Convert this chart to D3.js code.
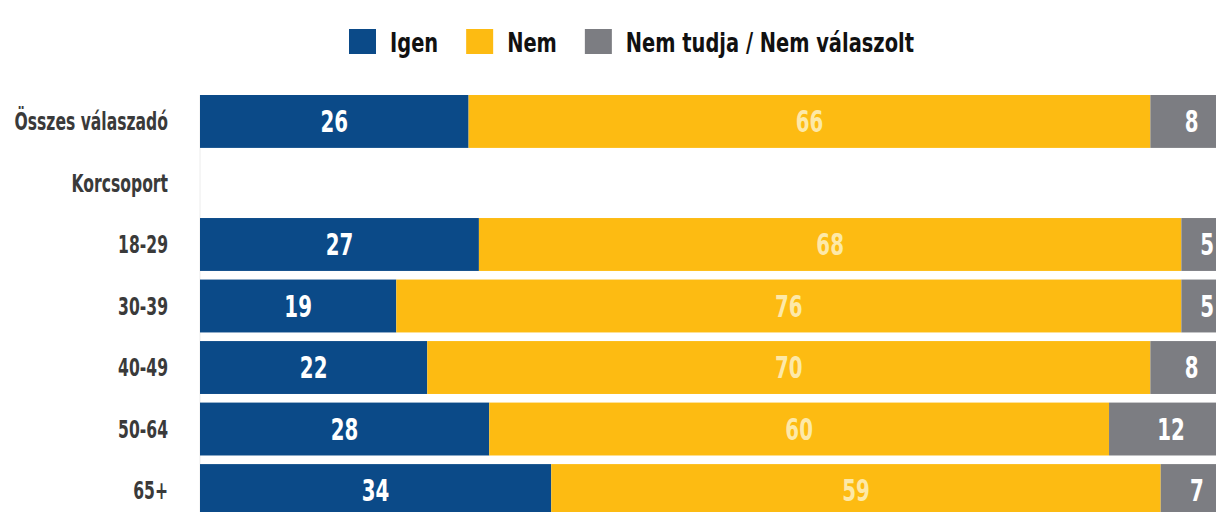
<!DOCTYPE html>
<html>
<head>
<meta charset="utf-8">
<script src="https://cdn.jsdelivr.net/npm/d3@7"></script>
<style>
  body { margin: 0; background: #fff; overflow: hidden; }
  text { font-family: "DejaVu Sans", sans-serif; font-weight: bold; }
</style>
</head>
<body>
<div id="chart"></div>
<script>
// adatok
const categories = ["Összes válaszadó", "Korcsoport", "18-29", "30-39", "40-49", "50-64", "65+"];
const igen = [26, null, 27, 19, 22, 28, 34];
const nem = [66, null, 68, 76, 70, 60, 59];
const nemTudja = [8, null, 5, 5, 8, 12, 7];
const seriesNames = ["Igen", "Nem", "Nem tudja / Nem válaszolt"];
const colors = ["#0b4a88", "#fdbb12", "#7c7d82"];
const labelColors = ["#ffffff", "#fde9a8", "#ffffff"];

const width = 1216, height = 512;

const svg = d3.select("#chart")
  .append("svg")
  .attr("width", width)
  .attr("height", height);

const x = d3.scaleLinear().domain([0, 100]).range([200, 1233]);
const y = d3.scaleBand().domain(categories).range([95, 517]).paddingInner(0.14).paddingOuter(0);

// narrow font trick: squeeze text horizontally
function squeeze(sel, sx) {
  sel.attr("transform", function(d) {
    const tx = +this.getAttribute("data-x"), ty = +this.getAttribute("data-y");
    return `translate(${tx},${ty}) scale(${sx},1)`;
  });
}

const rows = categories.map((c, i) => ({ cat: c, Igen: igen[i], Nem: nem[i], "Nem tudja / Nem válaszolt": nemTudja[i] }));
const stacked = d3.stack().keys(seriesNames)(rows.filter(r => r.Igen !== null));

// faint axis line
svg.append("line")
  .attr("x1", x(0)).attr("x2", x(0))
  .attr("y1", y.range()[0]).attr("y2", height)
  .attr("stroke", "#ececec").attr("stroke-width", 1);

const layers = svg.selectAll("g.layer")
  .data(stacked)
  .join("g")
    .attr("class", "layer")
    .attr("fill", (d, i) => colors[i]);

layers.selectAll("rect")
  .data(d => d)
  .join("rect")
    .attr("x", d => x(d[0]))
    .attr("y", d => y(d.data.cat))
    .attr("width", d => x(d[1]) - x(d[0]))
    .attr("height", y.bandwidth());

stacked.forEach((layer, i) => {
  svg.append("g")
    .selectAll("text")
    .data(layer)
    .join("text")
      .attr("data-x", d => (x(d[0]) + x(d[1])) / 2)
      .attr("data-y", d => y(d.data.cat) + y.bandwidth() / 2)
      .attr("dy", "0.36em")
      .attr("text-anchor", "middle")
      .attr("font-size", "30px")
      .attr("fill", labelColors[i])
      .text(d => d[1] - d[0])
      .call(squeeze, 0.66);
});

// category labels
svg.append("g")
  .selectAll("text")
  .data(categories)
  .join("text")
    .attr("data-x", 168)
    .attr("data-y", d => y(d) + y.bandwidth() / 2)
    .attr("dy", "0.36em")
    .attr("text-anchor", "end")
    .attr("font-size", "24px")
    .attr("fill", "#3a3a3a")
    .text(d => d)
    .call(squeeze, 0.65);

// legend
const legend = svg.append("g").attr("transform", "translate(349, 29)");
let lx = 0;
seriesNames.forEach((name, i) => {
  const g = legend.append("g").attr("transform", `translate(${lx}, 0)`);
  g.append("rect").attr("width", 27).attr("height", 25).attr("fill", colors[i]);
  const t = g.append("text")
    .attr("data-x", 41).attr("data-y", 13)
    .attr("dy", "0.36em")
    .attr("font-size", "27px").attr("fill", "#111")
    .text(name)
    .call(squeeze, 0.72);
  lx += 41 + t.node().getComputedTextLength() * 0.72 + 28;
});
</script>
</body>
</html>
